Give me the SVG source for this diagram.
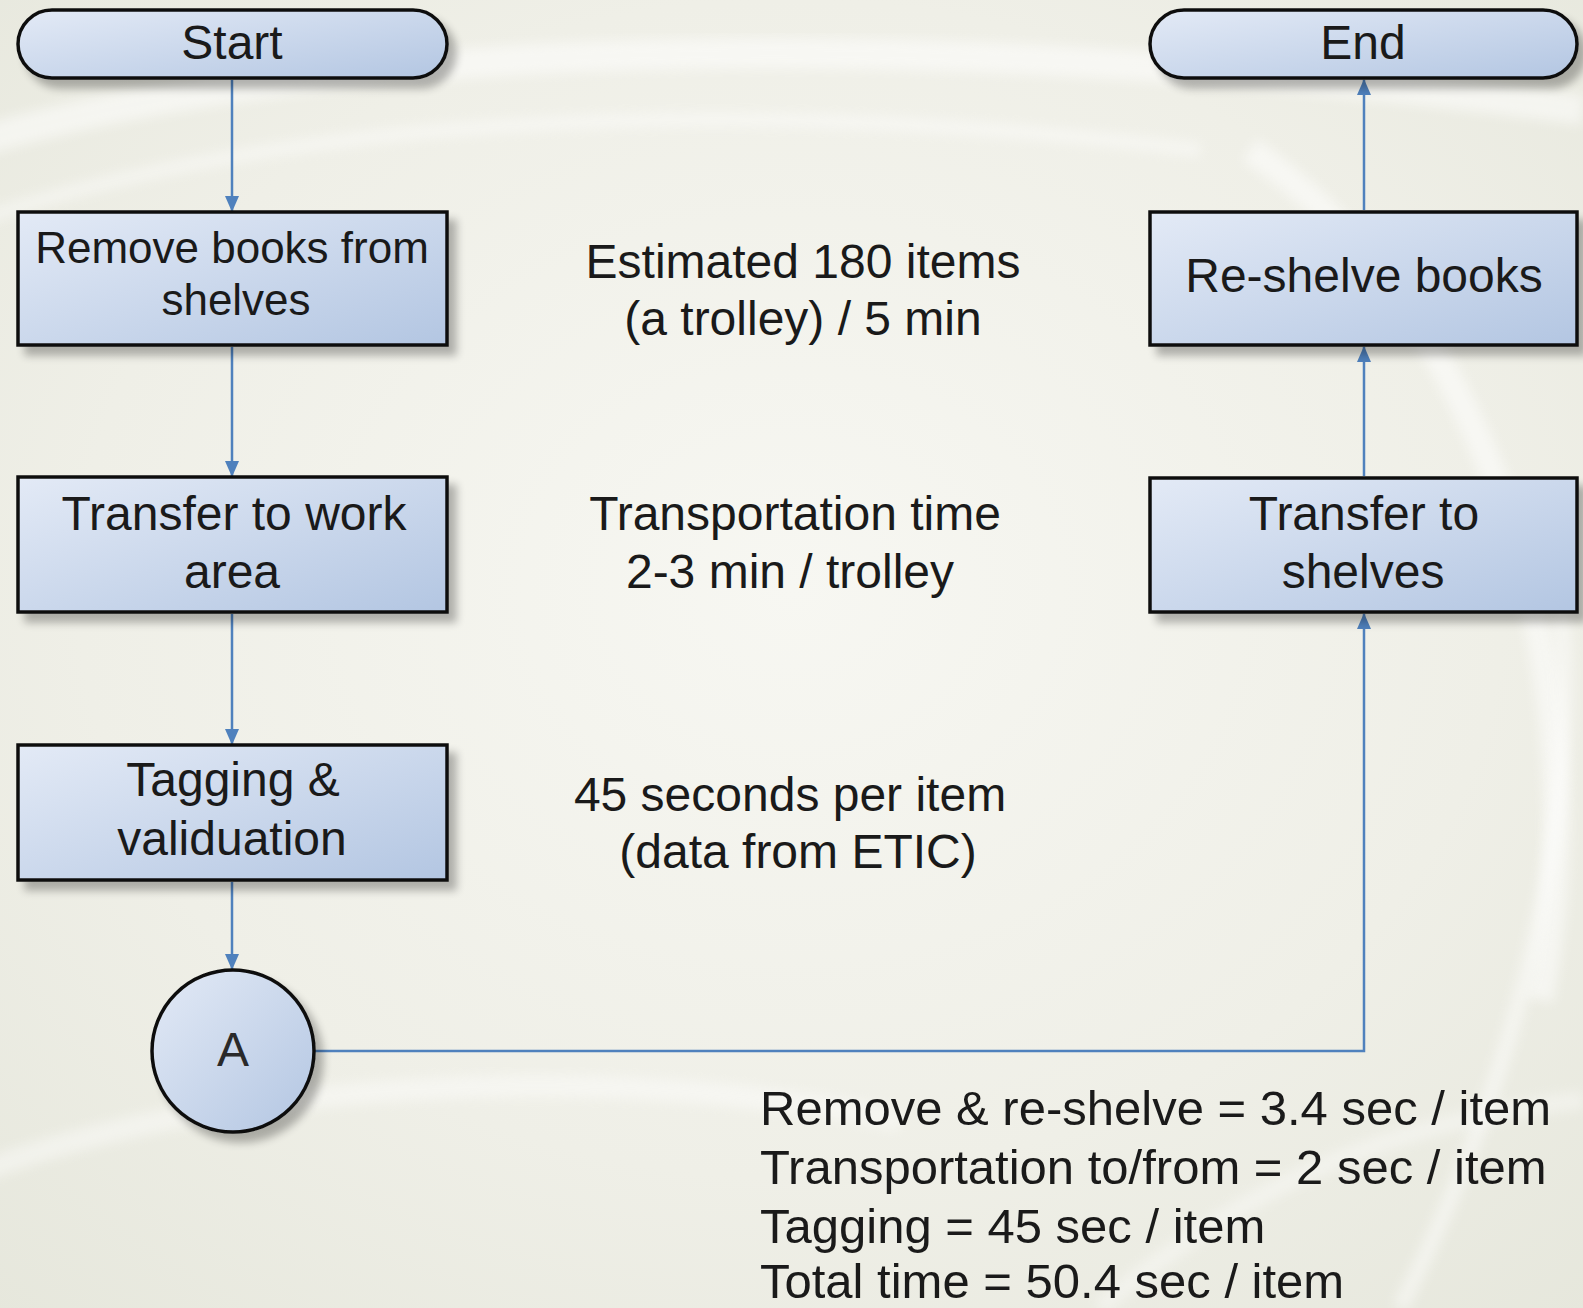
<svg xmlns="http://www.w3.org/2000/svg" width="1583" height="1308" viewBox="0 0 1583 1308">
  <defs>
    <radialGradient id="bg" cx="0.5" cy="0.45" r="0.75">
      <stop offset="0" stop-color="#f7f7f2"/>
      <stop offset="0.6" stop-color="#efefe7"/>
      <stop offset="1" stop-color="#e6e7dc"/>
    </radialGradient>
    <linearGradient id="nodeFill" x1="0" y1="0" x2="1" y2="1">
      <stop offset="0" stop-color="#e3eaf6"/>
      <stop offset="1" stop-color="#b3c6e2"/>
    </linearGradient>
    <filter id="shadow" x="-10%" y="-10%" width="130%" height="140%">
      <feGaussianBlur in="SourceAlpha" stdDeviation="4"/>
      <feOffset dx="8" dy="9" result="b"/>
      <feComponentTransfer><feFuncA type="linear" slope="0.28"/></feComponentTransfer>
      <feMerge><feMergeNode/><feMergeNode in="SourceGraphic"/></feMerge>
    </filter>
    <filter id="soft" x="-20%" y="-20%" width="140%" height="140%">
      <feGaussianBlur stdDeviation="6"/>
    </filter>
    <marker id="arrow" viewBox="0 0 16 14" refX="15" refY="7" markerWidth="16" markerHeight="14" markerUnits="userSpaceOnUse" orient="auto">
      <path d="M0,0 L16,7 L0,14 Z" fill="#4f81bd"/>
    </marker>
  </defs>
  <style>
    .node { fill: url(#nodeFill); stroke: #111; stroke-width: 3.5; filter: url(#shadow); }
    .label { font-family: "Liberation Sans", Arial, sans-serif; font-size: 48px; fill: #1a1a1a; text-anchor: middle; }
    .small { font-size: 44px; }
    .note { font-family: "Liberation Sans", Arial, sans-serif; font-size: 48px; fill: #1a1a1a; text-anchor: middle; }
    .sum { font-family: "Liberation Sans", Arial, sans-serif; font-size: 49px; fill: #1a1a1a; text-anchor: start; }
    .conn { fill: none; stroke: #4f81bd; stroke-width: 2.5; marker-end: url(#arrow); }
    .swoosh { fill: none; stroke: #ffffff; filter: url(#soft); }
  </style>

  <g id="background">
    <rect x="0" y="0" width="1583" height="1308" fill="url(#bg)"/>
    <path class="swoosh" d="M-50,150 C300,40 900,20 1583,110" stroke-width="30" opacity="0.5"/>
    <path class="swoosh" d="M-50,230 C250,120 700,90 1200,150" stroke-width="14" opacity="0.4"/>
    <path class="swoosh" d="M1250,150 C1500,320 1600,700 1540,1000" stroke-width="26" opacity="0.5"/>
    <path class="swoosh" d="M1400,1308 C1530,1050 1580,800 1560,600" stroke-width="16" opacity="0.45"/>
    <path class="swoosh" d="M-40,1180 C200,1080 600,1060 900,1120" stroke-width="22" opacity="0.4"/>
    <path class="swoosh" d="M1100,1308 C1250,1180 1400,1120 1583,1100" stroke-width="18" opacity="0.35"/>
  </g>

  <g id="connectors">
    <path class="conn" d="M232,80 L232,211"/>
    <path class="conn" d="M232,347 L232,476"/>
    <path class="conn" d="M232,614 L232,744"/>
    <path class="conn" d="M232,882 L232,969"/>
    <path class="conn" d="M314,1051 L1364,1051 L1364,614"/>
    <path class="conn" d="M1364,476 L1364,347"/>
    <path class="conn" d="M1364,210 L1364,80"/>
  </g>

  <g id="start">
    <rect class="node" x="18" y="10" width="429" height="68" rx="34" ry="34"/>
    <text class="label" x="232" y="59">Start</text>
  </g>
  <g id="remove-books">
    <rect class="node" x="18" y="212" width="429" height="133"/>
    <text class="label small" x="232" y="263">Remove books from</text>
    <text class="label small" x="236" y="315">shelves</text>
  </g>
  <g id="transfer-work">
    <rect class="node" x="18" y="477" width="429" height="135"/>
    <text class="label" x="234" y="530">Transfer to work</text>
    <text class="label" x="232" y="588">area</text>
  </g>
  <g id="tagging">
    <rect class="node" x="18" y="745" width="429" height="135"/>
    <text class="label" x="233" y="796">Tagging &amp;</text>
    <text class="label" x="232" y="855">validuation</text>
  </g>
  <g id="connector-a">
    <circle class="node" cx="233" cy="1051" r="81"/>
    <text class="label" x="233" y="1066" style="fill:#2a2a2a">A</text>
  </g>
  <g id="end">
    <rect class="node" x="1150" y="10" width="427" height="68" rx="34" ry="34"/>
    <text class="label" x="1363" y="59">End</text>
  </g>
  <g id="reshelve">
    <rect class="node" x="1150" y="212" width="427" height="133"/>
    <text class="label" x="1364" y="292">Re-shelve books</text>
  </g>
  <g id="transfer-shelves">
    <rect class="node" x="1150" y="478" width="427" height="134"/>
    <text class="label" x="1364" y="530">Transfer to</text>
    <text class="label" x="1363" y="588">shelves</text>
  </g>

  <g id="notes">
    <text class="note" x="803" y="278">Estimated 180 items</text>
    <text class="note" x="803" y="335">(a trolley) / 5 min</text>
    <text class="note" x="795" y="530">Transportation time</text>
    <text class="note" x="790" y="588">2-3 min / trolley</text>
    <text class="note" x="790" y="811">45 seconds per item</text>
    <text class="note" x="798" y="868">(data from ETIC)</text>
  </g>
  <g id="summary">
    <text class="sum" x="760" y="1125">Remove &amp; re-shelve = 3.4 sec / item</text>
    <text class="sum" x="760" y="1184">Transportation to/from = 2 sec / item</text>
    <text class="sum" x="760" y="1243">Tagging = 45 sec / item</text>
    <text class="sum" x="760" y="1298">Total time = 50.4 sec / item</text>
  </g>
</svg>
